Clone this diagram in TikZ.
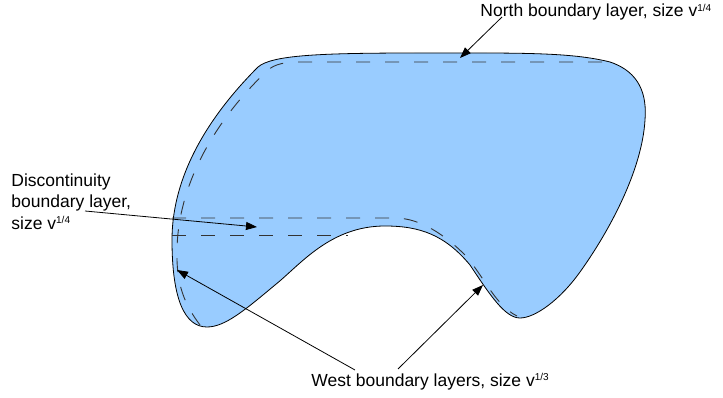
\documentclass[tikz,border=0pt]{standalone}
\usepackage{fontspec}
\setmainfont{Liberation Sans}
\usetikzlibrary{arrows.meta}
\definecolor{cfill}{HTML}{99CCFF}
\definecolor{cdash}{HTML}{333333}
\newcommand{\vpow}[1]{v\raisebox{5.3pt}{\fontsize{10}{10}\selectfont #1}}
\tikzset{
  every picture/.style={line width=0.9pt},
  note/.style={font=\fontsize{17.5}{21.5}\selectfont, inner sep=0pt, align=left},
  blayer/.style={draw=cdash, dash pattern=on 14pt off 15pt},
  arrow/.style={-{Triangle[length=11pt, width=8pt]}, draw=black, line width=0.8pt},
}

\begin{document}
\begin{tikzpicture}[x=1pt, y=-1pt]
  \useasboundingbox (0,0) rectangle (723,398);
  % domain
  \draw[fill=cfill, line width=0.8pt] (172,240)
    .. controls (172,170) and (215,110) .. (258,67)
    .. controls (272,55) and (320,53) .. (420,53)
    .. controls (520,53) and (570,52) .. (610,62)
    .. controls (640,72) and (647,95) .. (645,120)
    .. controls (642,170) and (610,230) .. (580,272)
    .. controls (560,300) and (535,318) .. (520,318)
    .. controls (505,318) and (490,295) .. (470,265)
    .. controls (445,235) and (420,226) .. (385,226)
    .. controls (330,226) and (300,265) .. (275,285)
    .. controls (245,310) and (225,327) .. (207,327)
    .. controls (185,327) and (172,300) .. (172,240) -- cycle;
  % boundary layers
  \draw[blayer] (200,325)
    .. controls (185,305) and (176,285) .. (177,250)
    .. controls (178,180) and (220,115) .. (268,70)
    .. controls (275,64) and (285,62) .. (300,62) -- (607,62);
  \draw[blayer] (172,218) -- (395,218)
    .. controls (420,218) and (445,235) .. (465,255)
    .. controls (485,278) and (495,305) .. (517,316);
  \draw[blayer] (172,235) -- (348,235);
  % labels
  \node[note, anchor=base west] (northlbl) at (480,17) {North boundary layer, size \vpow{1/4}};
  \node[note, anchor=north west] (disclbl) at (11,173) {Discontinuity\\boundary layer,\\size \vpow{1/4}};
  \node[note, anchor=base west] (westlbl) at (311,386) {West boundary layers, size \vpow{1/3}};
  % arrows
  \coordinate (northtip) at (460,58);
  \coordinate (disctail) at (85,211);
  \coordinate (disctip) at (257,227);
  \coordinate (westtipa) at (177,270);
  \coordinate (westtipb) at (483,285);
  \draw[arrow] ([xshift=22pt]northlbl.base west) -- (northtip);
  \draw[arrow] (disctail) -- (disctip);
  \draw[arrow] ([xshift=44pt, yshift=16pt]westlbl.base west) -- (westtipa);
  \draw[arrow] ([xshift=87pt, yshift=17pt]westlbl.base west) -- (westtipb);
\end{tikzpicture}
\end{document}
